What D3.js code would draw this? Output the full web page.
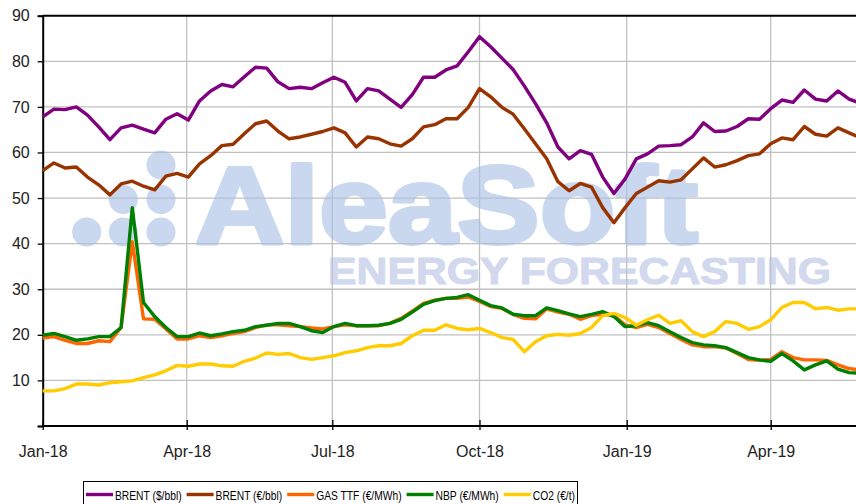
<!DOCTYPE html>
<html>
<head>
<meta charset="utf-8">
<script src="https://cdn.jsdelivr.net/npm/d3@7"></script>
<style>
  body { margin: 0; background: #fff; }
  svg { display: block; }
</style>
</head>
<body>
<script>
// weekly prices, first week starts Mon 1 Jan 2018
var firstWeek = '2018-01-01'

var brentUsd = [67.8, 69.5, 69.4, 70.0, 68.2, 65.6, 62.8, 65.4, 66.0, 65.1, 64.3, 67.3, 68.5, 67.1, 71.3, 73.5,
  74.9, 74.4, 76.6, 78.7, 78.5, 75.5, 74.0, 74.3, 74.0, 75.3, 76.5, 75.4, 71.3, 74.0, 73.5, 71.7,
  69.9, 72.7, 76.5, 76.5, 78.1, 79.0, 82.1, 85.4, 83.2, 80.7, 78.2, 74.6, 70.7, 66.5, 61.2, 58.6,
  60.4, 59.6, 54.6, 51.0, 54.2, 58.6, 59.7, 61.4, 61.5, 61.7, 63.4, 66.5, 64.6, 64.7, 65.7, 67.4,
  67.3, 69.6, 71.5, 71.0, 73.7, 71.7, 71.3, 73.5, 71.7, 70.8]

var brentEur = [56.0, 57.7, 56.6, 56.8, 54.6, 52.9, 50.7, 53.1, 53.7, 52.6, 51.8, 54.8, 55.4, 54.6, 57.5, 59.3,
  61.5, 61.8, 64.1, 66.3, 66.9, 64.7, 63.0, 63.4, 64.0, 64.6, 65.4, 64.3, 61.2, 63.4, 63.0, 61.9,
  61.4, 63.0, 65.6, 66.1, 67.4, 67.4, 69.9, 74.0, 72.2, 69.9, 68.4, 65.2, 61.9, 58.6, 53.6, 51.6,
  53.2, 52.4, 47.9, 44.6, 47.9, 51.0, 52.4, 53.8, 53.5, 54.0, 56.4, 58.8, 56.8, 57.3, 58.2, 59.3,
  59.7, 61.9, 63.2, 62.8, 65.7, 64.0, 63.6, 65.4, 64.3, 63.2]

var gasTtf = [19.3, 19.6, 18.8, 18.1, 18.1, 18.7, 18.5, 21.6, 40.4, 23.5, 23.4, 21.3, 19.1, 19.1, 19.8, 19.4,
  19.8, 20.3, 20.7, 21.6, 22.2, 22.2, 22.0, 21.8, 21.5, 21.3, 21.8, 22.2, 22.0, 22.0, 22.0, 22.5,
  23.6, 25.2, 26.9, 27.6, 28.0, 28.0, 28.3, 27.3, 26.2, 25.8, 24.5, 23.6, 23.5, 25.7, 25.0, 24.5,
  23.4, 24.2, 24.5, 24.2, 22.2, 21.6, 22.3, 21.6, 20.3, 19.0, 17.8, 17.4, 17.4, 17.1, 15.9, 14.6,
  14.4, 14.6, 16.3, 15.0, 14.5, 14.5, 14.4, 13.4, 12.6, 12.3]

var nbp = [19.9, 20.3, 19.6, 18.8, 19.1, 19.6, 19.6, 21.6, 47.9, 27.1, 24.0, 21.6, 19.6, 19.6, 20.4, 19.8,
  20.2, 20.7, 21.0, 21.8, 22.1, 22.5, 22.5, 21.8, 20.9, 20.5, 21.8, 22.5, 22.0, 22.0, 22.1, 22.5,
  23.4, 25.0, 26.7, 27.5, 28.0, 28.2, 28.8, 27.6, 26.4, 25.9, 24.5, 24.2, 24.2, 25.9, 25.3, 24.6,
  24.0, 24.5, 25.1, 24.0, 21.8, 22.0, 22.7, 22.0, 20.7, 19.4, 18.3, 17.8, 17.6, 17.2, 16.1, 15.0,
  14.5, 14.2, 15.9, 14.3, 12.3, 13.4, 14.3, 12.5, 11.7, 11.6]

var co2 = [7.7, 7.7, 8.2, 9.2, 9.2, 9.0, 9.5, 9.7, 9.9, 10.6, 11.2, 12.1, 13.3, 13.1, 13.6, 13.6,
  13.2, 13.1, 14.2, 14.9, 16.0, 15.7, 15.9, 15.0, 14.6, 15.0, 15.4, 16.1, 16.5, 17.2, 17.6, 17.6,
  18.1, 19.8, 21.0, 21.0, 22.2, 21.4, 21.1, 21.4, 20.5, 19.4, 19.0, 16.3, 18.5, 19.8, 20.1, 19.9,
  20.3, 21.6, 24.2, 24.7, 23.8, 22.1, 23.3, 24.3, 22.5, 23.1, 20.7, 19.6, 20.7, 22.9, 22.5, 21.2,
  21.8, 23.3, 26.0, 27.1, 27.1, 25.7, 26.0, 25.4, 25.7, 25.7]

var seriesNames = ['BRENT ($/bbl)', 'BRENT (€/bbl)', 'GAS TTF (€/MWh)', 'NBP (€/MWh)', 'CO2 (€/t)']
var seriesColors = ['#800080', '#993300', '#ff6600', '#008000', '#ffcc00']
var seriesValues = [brentUsd, brentEur, gasTtf, nbp, co2]

var xTickDates = ['2018-01-01', '2018-04-01', '2018-07-01', '2018-10-01', '2019-01-01', '2019-04-01']
var xTickLabels = ['Jan-18', 'Apr-18', 'Jul-18', 'Oct-18', 'Jan-19', 'Apr-19']
var yTicks = [0, 10, 20, 30, 40, 50, 60, 70, 80, 90]

var parseDay = d3.timeParse('%Y-%m-%d')
var start = parseDay(firstWeek)
var weeks = d3.range(brentUsd.length).map(function (i) { return d3.timeWeek.offset(start, i) })

var width = 856, height = 504
var plotLeft = 42.7, plotRight = 855.5, plotTop = 15.7, plotBottom = 426

var x = d3.scaleTime()
  .domain([start, parseDay('2019-05-24')])
  .range([plotLeft, plotRight])

var y = d3.scaleLinear()
  .domain([0, 90])
  .range([plotBottom, plotTop])

var svg = d3.select('body').append('svg')
  .attr('width', width)
  .attr('height', height)
  .style('font-family', "'Liberation Sans', Arial, sans-serif")

// grid
svg.append('g')
  .selectAll('line')
  .data(yTicks.slice(1, -1))
  .enter().append('line')
    .attr('x1', plotLeft).attr('x2', width)
    .attr('y1', function (d) { return y(d) }).attr('y2', function (d) { return y(d) })
    .attr('stroke', '#c0c0c0').attr('stroke-width', 1.3)

svg.append('g')
  .selectAll('line')
  .data(xTickDates.slice(1))
  .enter().append('line')
    .attr('x1', function (d) { return x(parseDay(d)) }).attr('x2', function (d) { return x(parseDay(d)) })
    .attr('y1', plotTop).attr('y2', plotBottom)
    .attr('stroke', '#c0c0c0').attr('stroke-width', 1.3)

// watermark (group opacity so the grid shows through)
var wm = svg.append('g').attr('opacity', 0.62)
var dots = [[161, 165], [123.3, 199.5], [161, 199.5], [86.7, 232], [123.3, 232], [161, 232]]
wm.selectAll('circle')
  .data(dots)
  .enter().append('circle')
    .attr('cx', function (d) { return d[0] })
    .attr('cy', function (d) { return d[1] })
    .attr('r', 14.5)
    .attr('fill', '#a9c1e6')

wm.append('text')
  .attr('x', 195).attr('y', 243)
  .attr('font-size', 110).attr('font-weight', 'bold')
  .attr('textLength', 503).attr('lengthAdjust', 'spacingAndGlyphs')
  .attr('fill', '#a9c1e6')
  .attr('stroke', '#a9c1e6').attr('stroke-width', 4).attr('stroke-linejoin', 'round')
  .text('AleaSoft')

wm.append('text')
  .attr('x', 328).attr('y', 284)
  .attr('font-size', 36).attr('font-weight', 'bold')
  .attr('textLength', 503).attr('lengthAdjust', 'spacingAndGlyphs')
  .attr('fill', '#b8c1e3')
  .attr('stroke', '#b8c1e3').attr('stroke-width', 1).attr('stroke-linejoin', 'round')
  .text('ENERGY FORECASTING')

// frame: top border
svg.append('line')
  .attr('x1', plotLeft).attr('x2', width)
  .attr('y1', plotTop).attr('y2', plotTop)
  .attr('stroke', '#000').attr('stroke-width', 2)

// y axis
var yAxis = svg.append('g')
  .attr('transform', 'translate(' + plotLeft + ',0)')
  .call(d3.axisLeft(y).tickValues(yTicks).tickSize(5).tickPadding(8)
    .tickFormat(function (d) { return d === 0 ? '' : d }))
yAxis.select('.domain').attr('stroke', '#000').attr('stroke-width', 2)
yAxis.selectAll('.tick line').attr('stroke', '#000').attr('stroke-width', 1.3)
yAxis.selectAll('text')
  .attr('font-size', 16).attr('fill', '#222')
  .attr('font-family', "'Liberation Sans', Arial, sans-serif")

// x axis
var xAxis = svg.append('g')
  .attr('transform', 'translate(0,' + plotBottom + ')')
  .call(d3.axisBottom(x).tickValues(xTickDates.map(parseDay)).tickSize(4).tickPadding(16)
    .tickFormat(function (d, i) { return xTickLabels[i] }))
xAxis.select('.domain').attr('d', 'M' + plotLeft + ',0H' + width).attr('stroke', '#000').attr('stroke-width', 2)
xAxis.selectAll('.tick line').attr('y1', -6).attr('stroke', '#000').attr('stroke-width', 1.3)
xAxis.selectAll('text')
  .attr('font-size', 16).attr('fill', '#222')
  .attr('font-family', "'Liberation Sans', Arial, sans-serif")

// series lines
var line = d3.line()
  .x(function (d, i) { return x(weeks[i]) })
  .y(function (d) { return y(d) })

svg.append('g')
  .selectAll('path')
  .data(seriesValues)
  .enter().append('path')
    .attr('d', line)
    .attr('fill', 'none')
    .attr('stroke', function (d, i) { return seriesColors[i] })
    .attr('stroke-width', 3.4)
    .attr('stroke-linejoin', 'round')

// legend (narrow text, squeezed horizontally)
var legend = svg.append('g')
legend.append('rect')
  .attr('x', 83.5).attr('y', 481.5)
  .attr('width', 494).attr('height', 30)
  .attr('fill', '#fff').attr('stroke', '#000').attr('stroke-width', 1)

var lx = 86
seriesNames.forEach(function (name, i) {
  legend.append('line')
    .attr('x1', lx).attr('x2', lx + 27)
    .attr('y1', 494.5).attr('y2', 494.5)
    .attr('stroke', seriesColors[i]).attr('stroke-width', 3.4)
  var t = legend.append('text')
    .attr('x', lx + 29).attr('y', 499.5)
    .attr('font-size', 13)
    .attr('fill', '#000')
    .text(name)
  var w = t.node().getComputedTextLength() * 0.79
  t.attr('textLength', w).attr('lengthAdjust', 'spacingAndGlyphs')
  lx = lx + 29 + w + 5
})
</script>
</body>
</html>
